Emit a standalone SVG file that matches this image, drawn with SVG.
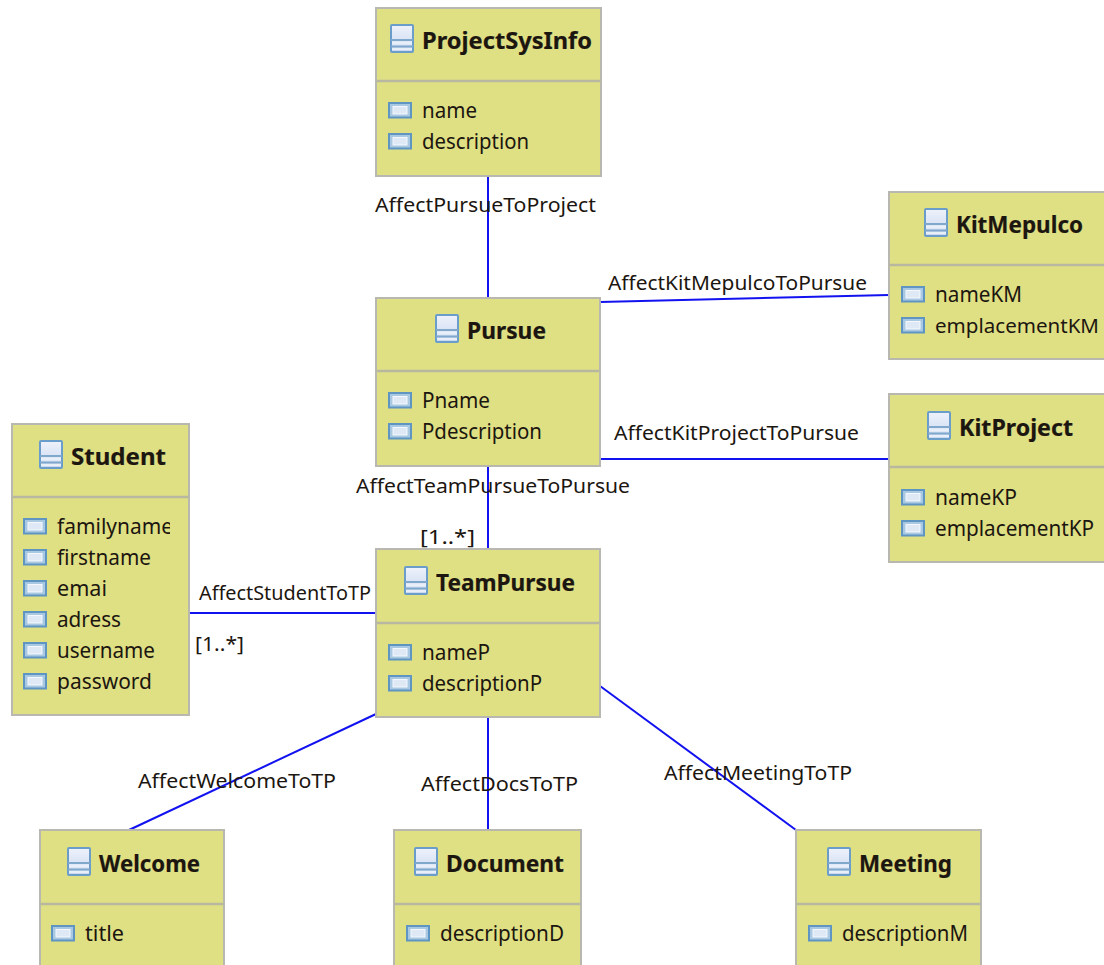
<svg xmlns="http://www.w3.org/2000/svg" width="1104" height="965" viewBox="0 0 1104 965">
<style>
text{font-family:"Noto Sans","DejaVu Sans",sans-serif;fill:#1c1610}
.t{font-size:23px;font-weight:700;stroke:#1c1610;stroke-width:.2}
.a{font-size:22px}
.l{font-size:20.5px}
.box{fill:#dfdf84;stroke:#b8b8b0;stroke-width:2}
.sep{stroke:#b8b8a0;stroke-width:2.5}
.c{stroke:#1212f0;stroke-width:2;fill:none}
</style>
<defs>
<linearGradient id="g" x1="0" y1="0" x2="0" y2="1"><stop offset="0" stop-color="#eef2fb"/><stop offset="1" stop-color="#c9d8f0"/></linearGradient>
<clipPath id="sc"><rect x="12" y="500" width="158" height="210"/></clipPath>
<g id="ci"><rect x="1" y="1" width="22" height="27" rx="1" fill="url(#g)" stroke="#6a9dc9" stroke-width="2"/><path d="M1 16H23M1 22.500H23" stroke="#7fa8cc" stroke-width="2"/><path d="M2 19H22" stroke="#e8eff8" stroke-width="3"/><path d="M2 25H22" stroke="#e8eff8" stroke-width="2"/></g>
<g id="ai"><rect x="1" y="1" width="22" height="14.500" fill="#a9c8e2" stroke="#5e95c2" stroke-width="2"/><rect x="5" y="4.500" width="14" height="7.500" fill="#dfe9f6" stroke="#f4f8fc" stroke-width="1"/></g>
</defs>
<g id="connectors">
<path class="c" d="M488 177V298"/>
<path class="c" d="M600 302L889 295"/>
<path class="c" d="M600 459H889"/>
<path class="c" d="M488 466V549"/>
<path class="c" d="M189 613H376"/>
<path class="c" d="M376 714L129 830"/>
<path class="c" d="M488 718V830"/>
<path class="c" d="M600 686L796 830"/>
<text class="l" x="375" y="212" textLength="221" lengthAdjust="spacingAndGlyphs">AffectPursueToProject</text>
<text class="l" x="608" y="290" textLength="259" lengthAdjust="spacingAndGlyphs">AffectKitMepulcoToPursue</text>
<text class="l" x="614" y="440" textLength="245" lengthAdjust="spacingAndGlyphs">AffectKitProjectToPursue</text>
<text class="l" x="356" y="493" textLength="274" lengthAdjust="spacingAndGlyphs">AffectTeamPursueToPursue</text>
<text class="l" x="420" y="544" textLength="55" lengthAdjust="spacingAndGlyphs">[1..*]</text>
<text class="l" x="199" y="600" textLength="172" lengthAdjust="spacingAndGlyphs">AffectStudentToTP</text>
<text class="l" x="195" y="651" textLength="49" lengthAdjust="spacingAndGlyphs">[1..*]</text>
<text class="l" x="138" y="788" textLength="198" lengthAdjust="spacingAndGlyphs">AffectWelcomeToTP</text>
<text class="l" x="421" y="791" textLength="157" lengthAdjust="spacingAndGlyphs">AffectDocsToTP</text>
<text class="l" x="664" y="780" textLength="188" lengthAdjust="spacingAndGlyphs">AffectMeetingToTP</text>
</g>
<g id="ProjectSysInfo">
<rect class="box" x="376" y="8" width="225" height="168"/><path class="sep" d="M376 81H601"/>
<use href="#ci" x="390" y="24"/><text class="t" x="422" y="49" textLength="170" lengthAdjust="spacingAndGlyphs">ProjectSysInfo</text>
<use href="#ai" x="388" y="102"/><text class="a" x="422" y="118" textLength="55" lengthAdjust="spacingAndGlyphs">name</text>
<use href="#ai" x="388" y="133"/><text class="a" x="422" y="149" textLength="107" lengthAdjust="spacingAndGlyphs">description</text>
</g>
<g id="Pursue">
<rect class="box" x="376" y="298" width="224" height="168"/><path class="sep" d="M376 371H600"/>
<use href="#ci" x="435" y="314"/><text class="t" x="467" y="339" textLength="79" lengthAdjust="spacingAndGlyphs">Pursue</text>
<use href="#ai" x="388" y="392"/><text class="a" x="422" y="408" textLength="68" lengthAdjust="spacingAndGlyphs">Pname</text>
<use href="#ai" x="388" y="423"/><text class="a" x="422" y="439" textLength="120" lengthAdjust="spacingAndGlyphs">Pdescription</text>
</g>
<g id="KitMepulco">
<rect class="box" x="889" y="192" width="220" height="167"/><path class="sep" d="M889 265H1109"/>
<use href="#ci" x="924" y="208"/><text class="t" x="956" y="233" textLength="127" lengthAdjust="spacingAndGlyphs">KitMepulco</text>
<use href="#ai" x="901" y="286"/><text class="a" x="935" y="302" textLength="87" lengthAdjust="spacingAndGlyphs">nameKM</text>
<use href="#ai" x="901" y="317"/><text class="a" x="935" y="333" font-size="20" style="font-size:20px" textLength="164" lengthAdjust="spacingAndGlyphs">emplacementKM</text>
</g>
<g id="KitProject">
<rect class="box" x="889" y="394" width="220" height="168"/><path class="sep" d="M889 467H1109"/>
<use href="#ci" x="927" y="411"/><text class="t" x="959" y="436" textLength="114" lengthAdjust="spacingAndGlyphs">KitProject</text>
<use href="#ai" x="901" y="489"/><text class="a" x="935" y="505" textLength="82" lengthAdjust="spacingAndGlyphs">nameKP</text>
<use href="#ai" x="901" y="520"/><text class="a" x="935" y="536" textLength="159" lengthAdjust="spacingAndGlyphs">emplacementKP</text>
</g>
<g id="Student">
<rect class="box" x="12" y="424" width="177" height="291"/><path class="sep" d="M12 497H189"/>
<use href="#ci" x="39" y="440"/><text class="t" x="71" y="465" textLength="95" lengthAdjust="spacingAndGlyphs">Student</text>
<use href="#ai" x="23" y="518"/><text class="a" x="57" y="534" textLength="116" lengthAdjust="spacingAndGlyphs" clip-path="url(#sc)">familyname</text>
<use href="#ai" x="23" y="549"/><text class="a" x="57" y="565" textLength="94" lengthAdjust="spacingAndGlyphs">firstname</text>
<use href="#ai" x="23" y="580"/><text class="a" x="57" y="596" textLength="50" lengthAdjust="spacingAndGlyphs">emai</text>
<use href="#ai" x="23" y="611"/><text class="a" x="57" y="627" textLength="64" lengthAdjust="spacingAndGlyphs">adress</text>
<use href="#ai" x="23" y="642"/><text class="a" x="57" y="658" textLength="98" lengthAdjust="spacingAndGlyphs">username</text>
<use href="#ai" x="23" y="673"/><text class="a" x="57" y="689" textLength="95" lengthAdjust="spacingAndGlyphs">password</text>
</g>
<g id="TeamPursue">
<rect class="box" x="376" y="549" width="224" height="168"/><path class="sep" d="M376 623H600"/>
<use href="#ci" x="404" y="566"/><text class="t" x="436" y="591" textLength="139" lengthAdjust="spacingAndGlyphs">TeamPursue</text>
<use href="#ai" x="388" y="644"/><text class="a" x="422" y="660" textLength="68" lengthAdjust="spacingAndGlyphs">nameP</text>
<use href="#ai" x="388" y="675"/><text class="a" x="422" y="691" textLength="120" lengthAdjust="spacingAndGlyphs">descriptionP</text>
</g>
<g id="Welcome">
<rect class="box" x="40" y="830" width="184" height="150"/><path class="sep" d="M40 904H224"/>
<use href="#ci" x="67" y="847"/><text class="t" x="99" y="872" textLength="101" lengthAdjust="spacingAndGlyphs">Welcome</text>
<use href="#ai" x="51" y="925"/><text class="a" x="85" y="941" textLength="39" lengthAdjust="spacingAndGlyphs">title</text>
</g>
<g id="Document">
<rect class="box" x="394" y="830" width="187" height="150"/><path class="sep" d="M394 904H581"/>
<use href="#ci" x="414" y="847"/><text class="t" x="446" y="872" textLength="118" lengthAdjust="spacingAndGlyphs">Document</text>
<use href="#ai" x="406" y="925"/><text class="a" x="440" y="941" textLength="124" lengthAdjust="spacingAndGlyphs">descriptionD</text>
</g>
<g id="Meeting">
<rect class="box" x="796" y="830" width="185" height="150"/><path class="sep" d="M796 904H981"/>
<use href="#ci" x="827" y="847"/><text class="t" x="859" y="872" textLength="93" lengthAdjust="spacingAndGlyphs">Meeting</text>
<use href="#ai" x="808" y="925"/><text class="a" x="842" y="941" textLength="126" lengthAdjust="spacingAndGlyphs">descriptionM</text>
</g>
</svg>
